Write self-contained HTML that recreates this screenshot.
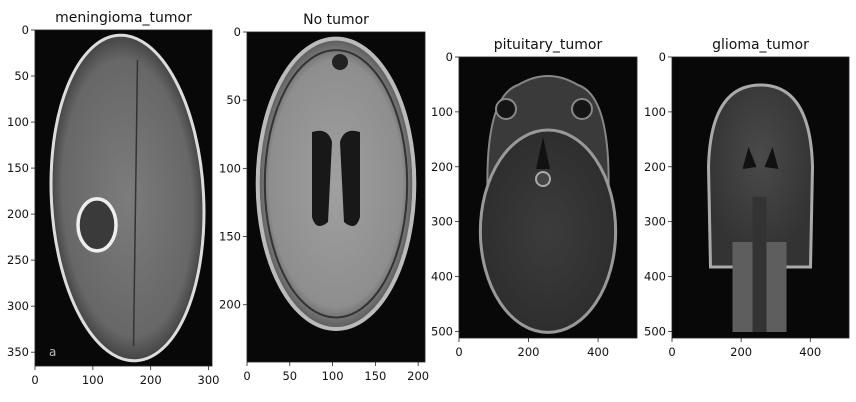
<!DOCTYPE html>
<html><head><meta charset="utf-8">
<style>
html,body{margin:0;padding:0;background:#fff;width:856px;height:402px;overflow:hidden}
svg{display:block}
text{font-family:"DejaVu Sans","Liberation Sans",sans-serif;fill:#111}
</style></head>
<body>
<svg id="fig" width="856" height="402" viewBox="0 0 856 402">
<defs>
<radialGradient id="g1" cx="50%" cy="50%" r="50%"><stop offset="0" stop-color="#7c7c7c"/><stop offset="0.85" stop-color="#676767"/><stop offset="1" stop-color="#444"/></radialGradient>
<radialGradient id="g2" cx="50%" cy="50%" r="50%"><stop offset="0" stop-color="#a0a0a0"/><stop offset="0.85" stop-color="#8e8e8e"/><stop offset="1" stop-color="#5a5a5a"/></radialGradient>
<radialGradient id="g3" cx="50%" cy="50%" r="50%"><stop offset="0" stop-color="#3c3c3c"/><stop offset="1" stop-color="#2e2e2e"/></radialGradient>
<radialGradient id="g4" cx="50%" cy="40%" r="55%"><stop offset="0" stop-color="#4a4a4a"/><stop offset="1" stop-color="#333"/></radialGradient>
</defs>
</svg>
<script>
const titles=["meningioma_tumor","No tumor","pituitary_tumor","glioma_tumor"];
const xExtent=[306,208,512,512];
const yExtent=[365,242,512,512];
const xTicks=[[0,100,200,300],[0,50,100,150,200],[0,200,400],[0,200,400]];
const yTicks=[[0,50,100,150,200,250,300,350],[0,50,100,150,200],[0,100,200,300,400,500],[0,100,200,300,400,500]];
const boxes=[{l:35,t:30,w:177,h:336},{l:247,t:32,w:178,h:330},{l:459,t:57,w:178,h:281},{l:672,t:57,w:177,h:281}];
const NS="http://www.w3.org/2000/svg";
const svg=document.getElementById('fig');
function mk(tag,attrs,parent){const e=document.createElementNS(NS,tag);for(const k in attrs)e.setAttribute(k,attrs[k]);(parent||svg).appendChild(e);return e;}
boxes.forEach((b,i)=>{
  const g=mk('g',{});
  
  
  const sx=v=>b.l+v/xExtent[i]*b.w, sy=v=>b.t+v/yExtent[i]*b.h;
  const img=mk('g',{},g);
  
  
  mk('rect',{x:b.l,y:b.t,width:b.w,height:b.h,fill:'#080808'},img);
  const cx=b.l+b.w/2;
  if(i===0){
    mk('ellipse',{cx:cx+4,cy:b.t+b.h*0.5,rx:b.w*0.43,ry:b.h*0.485,fill:'url(#g1)',stroke:'#ddd','stroke-width':3,transform:`rotate(-3 ${cx+4} ${b.t+b.h*0.5})`},img);
    mk('line',{x1:cx+14,y1:b.t+30,x2:cx+10,y2:b.t+b.h-20,stroke:'#333','stroke-width':1.5},img);
    mk('ellipse',{cx:b.l+62,cy:b.t+b.h*0.58,rx:19,ry:26,fill:'#3a3a3a',stroke:'#eee','stroke-width':3.5},img);
    mk('text',{x:b.l+14,y:b.t+b.h-10,'font-size':12,style:'fill:#bbb'},img).textContent='a';
  } else if(i===1){
    mk('ellipse',{cx:cx,cy:b.t+b.h*0.46,rx:b.w*0.44,ry:b.h*0.44,fill:'url(#g2)',stroke:'#bbb','stroke-width':4},img);
    mk('ellipse',{cx:cx,cy:b.t+b.h*0.46,rx:b.w*0.40,ry:b.h*0.405,fill:'none',stroke:'#333','stroke-width':2},img);
    mk('path',{d:`M${cx-24} ${b.t+100} Q${cx-8} ${b.t+95} ${cx-4} ${b.t+110} L${cx-8} ${b.t+190} Q${cx-20} ${b.t+200} ${cx-24} ${b.t+185} Z`,fill:'#181818'},img);
    mk('path',{d:`M${cx+24} ${b.t+100} Q${cx+8} ${b.t+95} ${cx+4} ${b.t+110} L${cx+8} ${b.t+190} Q${cx+20} ${b.t+200} ${cx+24} ${b.t+185} Z`,fill:'#181818'},img);
    mk('circle',{cx:cx+4,cy:b.t+30,r:8,fill:'#222'},img);
  } else if(i===2){
    mk('path',{d:`M${cx-60} ${b.t+150} Q${cx-65} ${b.t+40} ${cx-30} ${b.t+28} Q${cx} ${b.t+10} ${cx+30} ${b.t+28} Q${cx+65} ${b.t+40} ${cx+60} ${b.t+150} Z`,fill:'#3a3a3a',stroke:'#888','stroke-width':2},img);
    mk('ellipse',{cx:cx,cy:b.t+b.h*0.62,rx:b.w*0.38,ry:b.h*0.36,fill:'url(#g3)',stroke:'#999','stroke-width':3},img);
    mk('circle',{cx:cx-42,cy:b.t+52,r:10,fill:'#151515',stroke:'#888','stroke-width':2},img);
    mk('circle',{cx:cx+34,cy:b.t+52,r:10,fill:'#151515',stroke:'#888','stroke-width':2},img);
    mk('circle',{cx:cx-5,cy:b.t+122,r:7,fill:'#444',stroke:'#aaa','stroke-width':2},img);
    mk('path',{d:`M${cx-5} ${b.t+80} L${cx-12} ${b.t+112} L${cx+2} ${b.t+112} Z`,fill:'#111'},img);
  } else {
    mk('path',{d:`M${cx-50} ${b.t+210} L${cx-52} ${b.t+110} Q${cx-50} ${b.t+28} ${cx} ${b.t+28} Q${cx+50} ${b.t+28} ${cx+52} ${b.t+110} L${cx+50} ${b.t+210} Z`,fill:'url(#g4)',stroke:'#aaa','stroke-width':3},img);
    mk('rect',{x:cx-28,y:b.t+185,width:20,height:90,fill:'#5e5e5e'},img);
    mk('rect',{x:cx+6,y:b.t+185,width:20,height:90,fill:'#5e5e5e'},img);
    mk('rect',{x:cx-8,y:b.t+140,width:14,height:135,fill:'#333'},img);
    mk('path',{d:`M${cx-12} ${b.t+90} L${cx-4} ${b.t+110} L${cx-18} ${b.t+112} Z M${cx+12} ${b.t+90} L${cx+4} ${b.t+110} L${cx+18} ${b.t+112} Z`,fill:'#111'},img);
  }
  const fr=mk('rect',{x:b.l,y:b.t,width:b.w,height:b.h,fill:'none',stroke:'#222','stroke-width':0.8},g);
  
  
  const t=mk('text',{x:cx,y:b.t-8,'text-anchor':'middle','font-size':14},g);
  
  
  t.textContent=titles[i];
  xTicks[i].forEach(v=>{
    const x=sx(v);
    mk('line',{x1:x,y1:b.t+b.h,x2:x,y2:b.t+b.h+4,stroke:'#222','stroke-width':0.8},g);
    const tl=mk('text',{x:x,y:b.t+b.h+18,'text-anchor':'middle','font-size':11.5},g);
    
    
    tl.textContent=v;
  });
  yTicks[i].forEach(v=>{
    const y=sy(v);
    mk('line',{x1:b.l-4,y1:y,x2:b.l,y2:y,stroke:'#222','stroke-width':0.8},g);
    const tl=mk('text',{x:b.l-6,y:y+4,'text-anchor':'end','font-size':11.5},g);
    
    
    tl.textContent=v;
  });
});
</script>
</body></html>
